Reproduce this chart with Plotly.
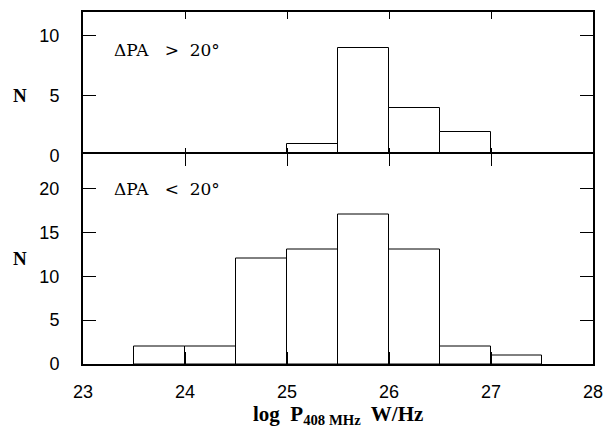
import plotly.graph_objects as go
from plotly.subplots import make_subplots

# Data
bin_left_top = [25.0, 25.5, 26.0, 26.5]
counts_top = [1, 9, 4, 2]
bin_left_bot = [23.5, 24.0, 24.5, 25.0, 25.5, 26.0, 26.5, 27.0]
counts_bot = [2, 2, 12, 13, 17, 13, 2, 1]
bin_width = 0.5
x_ticks = [23, 24, 25, 26, 27, 28]
y_ticks_top = [0, 5, 10]
y_ticks_bot = [0, 5, 10, 15, 20]

fig = make_subplots(rows=2, cols=1, shared_xaxes=True, vertical_spacing=0,
                    row_heights=[0.402, 0.598])

bar_style = dict(marker=dict(color="white", line=dict(color="black", width=1)),
                 width=bin_width, showlegend=False, hoverinfo="skip")

fig.add_trace(go.Bar(x=[b + bin_width / 2 for b in bin_left_top], y=counts_top, **bar_style),
              row=1, col=1)
fig.add_trace(go.Bar(x=[b + bin_width / 2 for b in bin_left_bot], y=counts_bot, **bar_style),
              row=2, col=1)

tickfont = dict(family="Liberation Sans, Arial, sans-serif", size=18, color="black")
common_x = dict(range=[23, 28], tickvals=x_ticks, showline=True, linecolor="black",
                linewidth=2, mirror="ticks", ticks="inside", tickcolor="black",
                tickwidth=1, showgrid=False, zeroline=False, tickfont=tickfont)
fig.update_xaxes(**common_x, ticklen=7, showticklabels=False, row=1, col=1)
fig.update_xaxes(**common_x, ticklen=12, ticklabelstandoff=10, row=2, col=1)

split = 0.598
overlap = 2.0 / 354.5
common_y = dict(showline=True, linecolor="black", linewidth=2, mirror="ticks",
                ticks="inside", tickcolor="black", tickwidth=1, ticklen=13,
                showgrid=False, zeroline=False, tickfont=tickfont,
                ticklabelstandoff=18)
fig.update_yaxes(**common_y, range=[0, 12], tickvals=y_ticks_top,
                 domain=[split - overlap, 1], row=1, col=1)
fig.update_yaxes(**common_y, range=[0, 24], tickvals=y_ticks_bot,
                 domain=[0, split], row=2, col=1)

serif = "DejaVu Serif, serif"
bold_serif = "Liberation Serif, Times New Roman, serif"
fig.add_annotation(x=23.28, y=8.8, xref="x", yref="y", text="ΔPA   >  20°",
                   showarrow=False, xanchor="left", yanchor="middle",
                   font=dict(family=serif, size=17, color="black"))
fig.add_annotation(x=23.28, y=20, xref="x2", yref="y2", text="ΔPA   <  20°",
                   showarrow=False, xanchor="left", yanchor="middle",
                   font=dict(family=serif, size=17, color="black"))
fig.add_annotation(x=-0.1235, y=5, xref="paper", yref="y", text="<b>N</b>",
                   showarrow=False, xanchor="center", yanchor="middle",
                   font=dict(family=bold_serif, size=19, color="black"))
fig.add_annotation(x=-0.1235, y=12, xref="paper", yref="y2", text="<b>N</b>",
                   showarrow=False, xanchor="center", yanchor="middle",
                   font=dict(family=bold_serif, size=19, color="black"))
fig.add_annotation(x=0.5, y=-0.146, xref="paper", yref="paper",
                   text="<b>log  P<sub>408 MHz</sub>  W/Hz</b>",
                   showarrow=False, xanchor="center", yanchor="middle",
                   font=dict(family=bold_serif, size=21, color="black"))

fig.update_layout(width=608, height=422, plot_bgcolor="white", paper_bgcolor="white",
                  margin=dict(l=75, r=23, t=2, b=66), bargap=0)

fig.write_html("out.html")
